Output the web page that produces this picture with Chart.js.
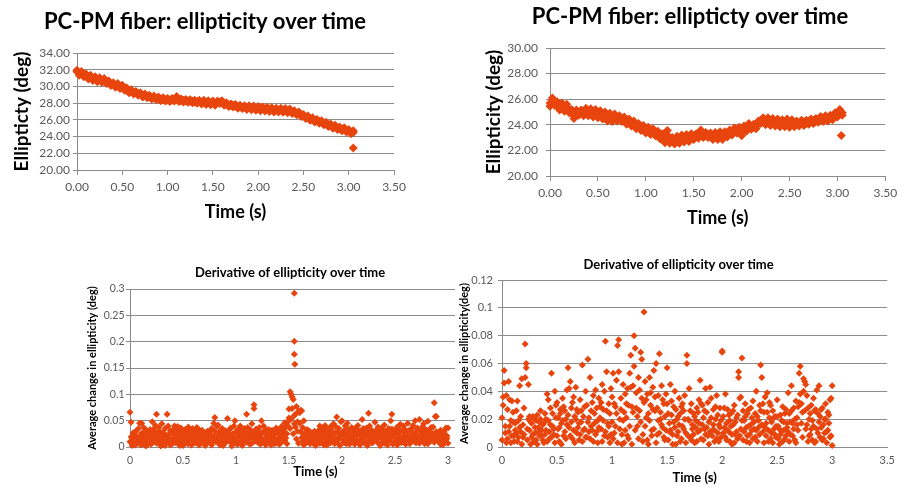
<!DOCTYPE html>
<html>
<head>
<meta charset="utf-8">
<script src="https://cdn.jsdelivr.net/npm/chart.js@4"></script>
<style>
  html, body { margin: 0; padding: 0; background: #fff; }
  body { width: 902px; height: 487px; position: relative; overflow: hidden; }
  .box { position: absolute; overflow: hidden; }
  canvas { display: block; }
</style>
</head>
<body>
<div class="box" style="left:0;top:0;width:450px;height:230px;"><canvas id="chartTopLeft" width="450" height="230"></canvas></div>
<div class="box" style="left:450px;top:0;width:452px;height:230px;"><canvas id="chartTopRight" width="452" height="230"></canvas></div>
<div class="box" style="left:79px;top:250px;width:376px;height:237px;"><canvas id="chartBottomLeft" width="460" height="237"></canvas></div>
<div class="box" style="left:440px;top:250px;width:462px;height:237px;"><canvas id="chartBottomRight" width="462" height="237"></canvas></div>
<script>
// sampling instants of the two ellipticity runs (s)
const timeTop = [
  0, 0.025, 0.05, 0.075, 0.1, 0.125, 0.15, 0.175,
  0.2, 0.225, 0.25, 0.275, 0.3, 0.325, 0.35, 0.375,
  0.4, 0.425, 0.45, 0.475, 0.5, 0.525, 0.55, 0.575,
  0.6, 0.625, 0.65, 0.675, 0.7, 0.725, 0.75, 0.775,
  0.8, 0.825, 0.85, 0.875, 0.9, 0.925, 0.95, 0.975,
  1, 1.025, 1.05, 1.075, 1.1, 1.125, 1.15, 1.175,
  1.2, 1.225, 1.25, 1.275, 1.3, 1.325, 1.35, 1.375,
  1.4, 1.425, 1.45, 1.475, 1.5, 1.525, 1.55, 1.575,
  1.6, 1.625, 1.65, 1.675, 1.7, 1.725, 1.75, 1.775,
  1.8, 1.825, 1.85, 1.875, 1.9, 1.925, 1.95, 1.975,
  2, 2.025, 2.05, 2.075, 2.1, 2.125, 2.15, 2.175,
  2.2, 2.225, 2.25, 2.275, 2.3, 2.325, 2.35, 2.375,
  2.4, 2.425, 2.45, 2.475, 2.5, 2.525, 2.55, 2.575,
  2.6, 2.625, 2.65, 2.675, 2.7, 2.725, 2.75, 2.775,
  2.8, 2.825, 2.85, 2.875, 2.9, 2.925, 2.95, 2.975,
  3, 3.025, 3.05
];

// ellipticity (deg), left run: middle of the band and its ragged edges
const ellipLeft = [
  31.75, 31.55, 31.60, 31.35, 31.30, 31.10, 31.15, 30.90,
  30.95, 30.75, 30.85, 30.70, 30.75, 30.55, 30.45, 30.30,
  30.25, 30.10, 30.15, 29.95, 29.95, 29.75, 29.60, 29.45,
  29.40, 29.30, 29.20, 29.15, 29.05, 28.95, 28.90, 28.85,
  28.75, 28.70, 28.65, 28.60, 28.55, 28.50, 28.45, 28.45,
  28.35, 28.40, 28.35, 28.45, 28.60, 28.40, 28.30, 28.35,
  28.25, 28.30, 28.20, 28.25, 28.15, 28.20, 28.15, 28.10,
  28.15, 28.05, 28.10, 28.00, 28.05, 27.95, 28.05, 28.15,
  28.10, 27.95, 27.85, 27.80, 27.70, 27.75, 27.65, 27.60,
  27.55, 27.55, 27.50, 27.45, 27.50, 27.40, 27.45, 27.35,
  27.40, 27.30, 27.35, 27.25, 27.30, 27.20, 27.25, 27.15,
  27.20, 27.15, 27.20, 27.10, 27.15, 27.05, 27.10, 26.95,
  26.90, 26.80, 26.75, 26.60, 26.45, 26.35, 26.25, 26.15,
  26.05, 25.95, 25.85, 25.80, 25.70, 25.60, 25.50, 25.40,
  25.30, 25.20, 25.15, 25.05, 24.95, 24.90, 24.85, 24.75,
  24.65, 24.55, 24.50
];
const ellipLeftEdge = [
  31.95, 31.35, 31.80, 31.15, 31.50, 30.90, 31.35, 30.70,
  31.15, 30.55, 31.05, 30.50, 30.95, 30.35, 30.65, 30.10,
  30.45, 29.90, 30.35, 29.75, 30.15, 29.55, 29.80, 29.25,
  29.60, 29.10, 29.40, 28.95, 29.25, 28.75, 29.10, 28.65,
  28.95, 28.50, 28.85, 28.40, 28.75, 28.30, 28.65, 28.25,
  28.55, 28.20, 28.55, 28.25, 28.80, 28.20, 28.50, 28.15,
  28.45, 28.10, 28.40, 28.05, 28.35, 28.00, 28.35, 27.90,
  28.35, 27.85, 28.30, 27.80, 28.25, 27.75, 28.25, 27.95,
  28.30, 27.75, 28.05, 27.60, 27.90, 27.55, 27.85, 27.40,
  27.75, 27.35, 27.70, 27.25, 27.70, 27.20, 27.65, 27.15,
  27.60, 27.10, 27.55, 27.05, 27.50, 27.00, 27.45, 26.95,
  27.40, 26.95, 27.40, 26.90, 27.35, 26.85, 27.30, 26.75,
  27.10, 26.60, 26.95, 26.40, 26.65, 26.15, 26.45, 25.95,
  26.25, 25.75, 26.05, 25.60, 25.90, 25.40, 25.70, 25.20,
  25.50, 25.00, 25.35, 24.85, 25.15, 24.70, 25.05, 24.55,
  24.85, 24.35, 24.70
];
const outlierLeftTime = [3.05];
const outlierLeftValue = [22.62];

// ellipticity (deg), right run: middle of the band and its ragged edges
const ellipRight = [
  25.70, 25.90, 25.75, 25.55, 25.40, 25.45, 25.30, 25.35,
  25.20, 24.95, 24.70, 24.90, 25.00, 24.90, 24.95, 25.05,
  24.95, 25.00, 24.85, 24.95, 24.80, 24.85, 24.70, 24.75,
  24.55, 24.65, 24.50, 24.60, 24.55, 24.45, 24.50, 24.35,
  24.30, 24.20, 24.15, 24.05, 23.95, 23.85, 23.80, 23.70,
  23.60, 23.55, 23.50, 23.45, 23.40, 23.25, 23.15, 23.05,
  22.85, 23.20, 22.80, 22.70, 22.75, 22.85, 22.80, 22.95,
  22.90, 23.00, 22.95, 23.05, 23.10, 23.05, 23.20, 23.35,
  23.25, 23.15, 23.25, 23.10, 23.05, 23.15, 23.10, 23.20,
  23.05, 23.20, 23.30, 23.35, 23.45, 23.50, 23.60, 23.55,
  23.35, 23.65, 23.75, 23.85, 23.90, 23.80, 23.95, 24.05,
  24.35, 24.30, 24.25, 24.35, 24.20, 24.30, 24.15, 24.25,
  24.05, 24.15, 24.10, 24.20, 24.05, 24.15, 24.10, 24.05,
  24.15, 24.10, 24.20, 24.10, 24.30, 24.20, 24.35, 24.25,
  24.45, 24.40, 24.50, 24.45, 24.55, 24.50, 24.65, 24.70,
  24.85, 25.00, 24.95
];
const ellipRightEdge = [
  25.45, 26.10, 25.50, 25.80, 25.15, 25.70, 25.05, 25.60,
  24.95, 25.20, 24.50, 25.15, 24.75, 25.15, 24.70, 25.30,
  24.70, 25.25, 24.60, 25.20, 24.55, 25.10, 24.45, 25.00,
  24.30, 24.90, 24.25, 24.85, 24.30, 24.70, 24.25, 24.60,
  24.05, 24.45, 23.90, 24.30, 23.70, 24.10, 23.55, 23.95,
  23.35, 23.80, 23.25, 23.70, 23.15, 23.50, 22.90, 23.30,
  22.60, 23.55, 22.55, 23.00, 22.50, 23.10, 22.55, 23.20,
  22.65, 23.25, 22.70, 23.30, 22.85, 23.30, 22.95, 23.60,
  23.00, 23.40, 23.00, 23.35, 22.85, 23.40, 22.85, 23.45,
  22.85, 23.45, 23.05, 23.60, 23.20, 23.75, 23.35, 23.80,
  23.15, 23.90, 23.50, 24.10, 23.65, 24.05, 23.70, 24.30,
  24.10, 24.55, 24.00, 24.55, 23.95, 24.50, 23.90, 24.45,
  23.85, 24.40, 23.85, 24.45, 23.80, 24.40, 23.85, 24.30,
  23.90, 24.35, 23.95, 24.35, 24.05, 24.45, 24.10, 24.50,
  24.20, 24.65, 24.25, 24.70, 24.30, 24.75, 24.40, 24.95,
  24.60, 25.20, 24.75
];
const outlierRightTime = [3.04];
const outlierRightValue = [23.17];

// sampling instants of the derivative plots (s)
const timeBottom = [
  0, 0.01, 0.02, 0.03, 0.04, 0.05, 0.06, 0.07, 0.08, 0.09,
  0.1, 0.11, 0.12, 0.13, 0.14, 0.15, 0.16, 0.17, 0.18, 0.19,
  0.2, 0.21, 0.22, 0.23, 0.24, 0.25, 0.26, 0.27, 0.28, 0.29,
  0.3, 0.31, 0.32, 0.33, 0.34, 0.35, 0.36, 0.37, 0.38, 0.39,
  0.4, 0.41, 0.42, 0.43, 0.44, 0.45, 0.46, 0.47, 0.48, 0.49,
  0.5, 0.51, 0.52, 0.53, 0.54, 0.55, 0.56, 0.57, 0.58, 0.59,
  0.6, 0.61, 0.62, 0.63, 0.64, 0.65, 0.66, 0.67, 0.68, 0.69,
  0.7, 0.71, 0.72, 0.73, 0.74, 0.75, 0.76, 0.77, 0.78, 0.79,
  0.8, 0.81, 0.82, 0.83, 0.84, 0.85, 0.86, 0.87, 0.88, 0.89,
  0.9, 0.91, 0.92, 0.93, 0.94, 0.95, 0.96, 0.97, 0.98, 0.99,
  1, 1.01, 1.02, 1.03, 1.04, 1.05, 1.06, 1.07, 1.08, 1.09,
  1.1, 1.11, 1.12, 1.13, 1.14, 1.15, 1.16, 1.17, 1.18, 1.19,
  1.2, 1.21, 1.22, 1.23, 1.24, 1.25, 1.26, 1.27, 1.28, 1.29,
  1.3, 1.31, 1.32, 1.33, 1.34, 1.35, 1.36, 1.37, 1.38, 1.39,
  1.4, 1.41, 1.42, 1.43, 1.44, 1.45, 1.46, 1.47, 1.48, 1.49,
  1.5, 1.51, 1.52, 1.53, 1.54, 1.55, 1.56, 1.57, 1.58, 1.59,
  1.6, 1.61, 1.62, 1.63, 1.64, 1.65, 1.66, 1.67, 1.68, 1.69,
  1.7, 1.71, 1.72, 1.73, 1.74, 1.75, 1.76, 1.77, 1.78, 1.79,
  1.8, 1.81, 1.82, 1.83, 1.84, 1.85, 1.86, 1.87, 1.88, 1.89,
  1.9, 1.91, 1.92, 1.93, 1.94, 1.95, 1.96, 1.97, 1.98, 1.99,
  2, 2.01, 2.02, 2.03, 2.04, 2.05, 2.06, 2.07, 2.08, 2.09,
  2.1, 2.11, 2.12, 2.13, 2.14, 2.15, 2.16, 2.17, 2.18, 2.19,
  2.2, 2.21, 2.22, 2.23, 2.24, 2.25, 2.26, 2.27, 2.28, 2.29,
  2.3, 2.31, 2.32, 2.33, 2.34, 2.35, 2.36, 2.37, 2.38, 2.39,
  2.4, 2.41, 2.42, 2.43, 2.44, 2.45, 2.46, 2.47, 2.48, 2.49,
  2.5, 2.51, 2.52, 2.53, 2.54, 2.55, 2.56, 2.57, 2.58, 2.59,
  2.6, 2.61, 2.62, 2.63, 2.64, 2.65, 2.66, 2.67, 2.68, 2.69,
  2.7, 2.71, 2.72, 2.73, 2.74, 2.75, 2.76, 2.77, 2.78, 2.79,
  2.8, 2.81, 2.82, 2.83, 2.84, 2.85, 2.86, 2.87, 2.88, 2.89,
  2.9, 2.91, 2.92, 2.93, 2.94, 2.95, 2.96, 2.97, 2.98, 2.99,
  3
];

// average change in ellipticity (deg), left run, two passes
const derivLeftA = [
  0.066, 0.019, 0.008, 0.027, 0.012, 0.004, 0.031, 0.016, 0.009, 0.045,
  0.022, 0.045, 0.006, 0.018, 0.030, 0.002, 0.014, 0.025, 0.010, 0.033,
  0.005, 0.048, 0.020, 0.012, 0.029, 0.062, 0.015, 0.037, 0.008, 0.021,
  0.044, 0.011, 0.026, 0.003, 0.018, 0.062, 0.023, 0.009, 0.031, 0.014,
  0.006, 0.027, 0.040, 0.017, 0.034, 0.010, 0.022, 0.003, 0.036, 0.019,
  0.028, 0.012, 0.033, 0.007, 0.024, 0.038, 0.015, 0.030, 0.004, 0.035,
  0.020, 0.026, 0.009, 0.037, 0.016, 0.029, 0.005, 0.023, 0.032, 0.011,
  0.027, 0.003, 0.019, 0.030, 0.013, 0.024, 0.008, 0.035, 0.017, 0.045,
  0.056, 0.021, 0.039, 0.010, 0.028, 0.004, 0.033, 0.018, 0.026, 0.007,
  0.031, 0.015, 0.054, 0.022, 0.011, 0.036, 0.002, 0.025, 0.018, 0.050,
  0.013, 0.032, 0.006, 0.023, 0.040, 0.016, 0.028, 0.009, 0.035, 0.021,
  0.062, 0.014, 0.030, 0.005, 0.026, 0.044, 0.019, 0.080, 0.011, 0.034,
  0.023, 0.008, 0.037, 0.016, 0.050, 0.027, 0.012, 0.031, 0.004, 0.022,
  0.018, 0.033, 0.009, 0.026, 0.014, 0.030, 0.006, 0.024, 0.036, 0.011,
  0.028, 0.005, 0.020, 0.039, 0.013, 0.032, 0.046, 0.017, 0.025, 0.040,
  0.072, 0.105, 0.053, 0.073, 0.090, 0.044, 0.062, 0.077, 0.048, 0.068,
  0.065, 0.029, 0.069, 0.012, 0.050, 0.024, 0.008, 0.033, 0.017, 0.021,
  0.006, 0.026, 0.015, 0.011, 0.030, 0.003, 0.019, 0.009, 0.024, 0.040,
  0.014, 0.036, 0.007, 0.029, 0.018, 0.033, 0.004, 0.025, 0.012, 0.038,
  0.021, 0.010, 0.044, 0.016, 0.027, 0.057, 0.008, 0.035, 0.019, 0.048,
  0.050, 0.013, 0.031, 0.024, 0.006, 0.045, 0.017, 0.028, 0.010, 0.037,
  0.020, 0.034, 0.005, 0.026, 0.014, 0.041, 0.009, 0.030, 0.022, 0.052,
  0.011, 0.027, 0.018, 0.036, 0.003, 0.064, 0.023, 0.015, 0.032, 0.008,
  0.029, 0.047, 0.013, 0.021, 0.038, 0.006, 0.025, 0.017, 0.033, 0.010,
  0.042, 0.019, 0.028, 0.004, 0.035, 0.014, 0.050, 0.062, 0.022, 0.009,
  0.031, 0.016, 0.038, 0.007, 0.026, 0.043, 0.012, 0.029, 0.020, 0.034,
  0.005, 0.024, 0.045, 0.015, 0.032, 0.010, 0.027, 0.041, 0.018, 0.050,
  0.008, 0.036, 0.021, 0.052, 0.013, 0.030, 0.025, 0.044, 0.006, 0.033,
  0.019, 0.049, 0.011, 0.027, 0.037, 0.016, 0.023, 0.084, 0.058, 0.029,
  0.014, 0.025, 0.009, 0.032, 0.018, 0.004, 0.028, 0.012, 0.036, 0.021,
  0.007
];
const derivLeftB = [
  0.010, 0.047, 0.003, 0.021, 0.014, 0.028, 0.006, 0.019, 0.035, 0.011,
  0.004, 0.026, 0.015, 0.037, 0.008, 0.022, 0.031, 0.005, 0.017, 0.012,
  0.025, 0.009, 0.033, 0.016, 0.041, 0.007, 0.024, 0.013, 0.030, 0.002,
  0.018, 0.027, 0.006, 0.035, 0.012, 0.021, 0.040, 0.015, 0.004, 0.026,
  0.032, 0.013, 0.019, 0.008, 0.025, 0.039, 0.005, 0.028, 0.014, 0.010,
  0.003, 0.021, 0.016, 0.026, 0.011, 0.006, 0.029, 0.019, 0.024, 0.013,
  0.031, 0.008, 0.022, 0.015, 0.035, 0.004, 0.018, 0.012, 0.027, 0.020,
  0.014, 0.022, 0.007, 0.016, 0.025, 0.009, 0.031, 0.004, 0.021, 0.012,
  0.030, 0.010, 0.018, 0.042, 0.006, 0.024, 0.013, 0.035, 0.003, 0.020,
  0.008, 0.027, 0.019, 0.012, 0.033, 0.023, 0.016, 0.007, 0.040, 0.014,
  0.029, 0.005, 0.021, 0.034, 0.011, 0.026, 0.003, 0.018, 0.013, 0.025,
  0.009, 0.037, 0.020, 0.016, 0.032, 0.007, 0.028, 0.073, 0.024, 0.015,
  0.012, 0.030, 0.021, 0.005, 0.027, 0.015, 0.040, 0.008, 0.034, 0.019,
  0.026, 0.011, 0.020, 0.004, 0.032, 0.017, 0.023, 0.013, 0.007, 0.029,
  0.016, 0.024, 0.033, 0.009, 0.027, 0.019, 0.012, 0.038, 0.006, 0.048,
  0.055, 0.035, 0.100, 0.095, 0.025, 0.060, 0.038, 0.015, 0.030, 0.007,
  0.045, 0.070, 0.018, 0.037, 0.004, 0.027, 0.014, 0.020, 0.009, 0.031,
  0.022, 0.012, 0.018, 0.027, 0.005, 0.016, 0.023, 0.011, 0.032, 0.007,
  0.028, 0.018, 0.023, 0.004, 0.041, 0.010, 0.026, 0.015, 0.030, 0.008,
  0.033, 0.016, 0.025, 0.006, 0.039, 0.012, 0.028, 0.019, 0.003, 0.024,
  0.017, 0.029, 0.008, 0.040, 0.021, 0.012, 0.033, 0.005, 0.023, 0.015,
  0.028, 0.009, 0.019, 0.036, 0.012, 0.024, 0.030, 0.004, 0.016, 0.026,
  0.035, 0.017, 0.006, 0.022, 0.029, 0.011, 0.040, 0.019, 0.008, 0.025,
  0.013, 0.022, 0.031, 0.010, 0.018, 0.027, 0.003, 0.036, 0.015, 0.023,
  0.007, 0.029, 0.014, 0.021, 0.011, 0.026, 0.018, 0.034, 0.005, 0.030,
  0.019, 0.027, 0.004, 0.022, 0.013, 0.032, 0.008, 0.017, 0.040, 0.011,
  0.026, 0.014, 0.020, 0.031, 0.006, 0.018, 0.035, 0.013, 0.024, 0.009,
  0.029, 0.016, 0.033, 0.007, 0.022, 0.012, 0.039, 0.019, 0.027, 0.014,
  0.024, 0.006, 0.031, 0.016, 0.012, 0.026, 0.038, 0.009, 0.020, 0.058,
  0.027, 0.011, 0.019, 0.005, 0.025, 0.014, 0.030, 0.008, 0.022, 0.016,
  0.036
];
const spikeLeftTime = [1.55, 1.55, 1.55, 1.555];
const spikeLeftValue = [0.292, 0.201, 0.176, 0.157];

// average change in ellipticity (deg), right run, two passes
const derivRightA = [
  0.021, 0.030, 0.055, 0.010, 0.037, 0.006, 0.047, 0.015, 0.003, 0.033,
  0.018, 0.008, 0.012, 0.026, 0.004, 0.019, 0.044, 0.011, 0.049, 0.007,
  0.028, 0.074, 0.057, 0.013, 0.045, 0.022, 0.002, 0.017, 0.009, 0.021,
  0.014, 0.005, 0.023, 0.011, 0.018, 0.026, 0.008, 0.016, 0.003, 0.024,
  0.012, 0.038, 0.019, 0.006, 0.028, 0.053, 0.015, 0.009, 0.040, 0.021,
  0.032, 0.013, 0.004, 0.024, 0.017, 0.035, 0.008, 0.026, 0.020, 0.041,
  0.057, 0.014, 0.047, 0.028, 0.006, 0.036, 0.022, 0.043, 0.010, 0.025,
  0.005, 0.034, 0.018, 0.059, 0.012, 0.029, 0.040, 0.007, 0.063, 0.021,
  0.050, 0.015, 0.032, 0.004, 0.024, 0.041, 0.011, 0.019, 0.035, 0.029,
  0.013, 0.045, 0.027, 0.008, 0.076, 0.054, 0.017, 0.031, 0.003, 0.042,
  0.036, 0.053, 0.010, 0.029, 0.048, 0.073, 0.077, 0.020, 0.035, 0.002,
  0.045, 0.025, 0.012, 0.031, 0.042, 0.006, 0.053, 0.066, 0.029, 0.044,
  0.080, 0.071, 0.039, 0.015, 0.050, 0.026, 0.068, 0.035, 0.004, 0.097,
  0.047, 0.021, 0.038, 0.002, 0.050, 0.030, 0.012, 0.043, 0.055, 0.026,
  0.060, 0.009, 0.037, 0.067, 0.020, 0.044, 0.014, 0.031, 0.005, 0.038,
  0.057, 0.024, 0.011, 0.045, 0.033, 0.002, 0.018, 0.040, 0.027, 0.008,
  0.022, 0.035, 0.004, 0.029, 0.015, 0.026, 0.037, 0.010, 0.066, 0.020,
  0.042, 0.007, 0.031, 0.016, 0.024, 0.003, 0.019, 0.028, 0.011, 0.034,
  0.048, 0.006, 0.030, 0.021, 0.013, 0.042, 0.025, 0.008, 0.018, 0.043,
  0.035, 0.012, 0.027, 0.004, 0.020, 0.037, 0.010, 0.016, 0.028, 0.007,
  0.069, 0.022, 0.014, 0.038, 0.005, 0.027, 0.011, 0.019, 0.024, 0.002,
  0.016, 0.030, 0.009, 0.021, 0.006, 0.054, 0.035, 0.013, 0.064, 0.026,
  0.019, 0.031, 0.004, 0.024, 0.015, 0.009, 0.028, 0.012, 0.033, 0.018,
  0.007, 0.040, 0.022, 0.014, 0.030, 0.059, 0.050, 0.011, 0.025, 0.036,
  0.017, 0.039, 0.004, 0.021, 0.030, 0.010, 0.026, 0.013, 0.022, 0.007,
  0.034, 0.015, 0.002, 0.023, 0.011, 0.029, 0.018, 0.006, 0.027, 0.014,
  0.039, 0.024, 0.009, 0.044, 0.017, 0.028, 0.005, 0.033, 0.021, 0.012,
  0.053, 0.058, 0.031, 0.025, 0.040, 0.047, 0.045, 0.016, 0.028, 0.008,
  0.024, 0.013, 0.019, 0.035, 0.003, 0.027, 0.041, 0.010, 0.044, 0.022,
  0.014, 0.028, 0.006, 0.020, 0.031, 0.011, 0.025, 0.017, 0.034, 0.008,
  0.044
];
const derivRightB = [
  0.005, 0.036, 0.046, 0.015, 0.003, 0.027, 0.011, 0.034, 0.019, 0.008,
  0.025, 0.004, 0.017, 0.010, 0.033, 0.007, 0.014, 0.022, 0.002, 0.016,
  0.009, 0.050, 0.060, 0.005, 0.020, 0.012, 0.018, 0.007, 0.022, 0.004,
  0.010, 0.019, 0.002, 0.014, 0.008, 0.020, 0.012, 0.005, 0.017, 0.009,
  0.020, 0.004, 0.034, 0.011, 0.016, 0.007, 0.024, 0.013, 0.003, 0.030,
  0.008, 0.021, 0.014, 0.027, 0.002, 0.019, 0.029, 0.011, 0.006, 0.016,
  0.023, 0.042, 0.008, 0.018, 0.032, 0.012, 0.003, 0.020, 0.027, 0.014,
  0.017, 0.009, 0.026, 0.004, 0.022, 0.013, 0.007, 0.030, 0.018, 0.011,
  0.006, 0.026, 0.012, 0.037, 0.017, 0.009, 0.028, 0.003, 0.014, 0.021,
  0.032, 0.004, 0.019, 0.040, 0.011, 0.026, 0.007, 0.015, 0.024, 0.009,
  0.018, 0.006, 0.031, 0.015, 0.024, 0.003, 0.054, 0.013, 0.027, 0.009,
  0.019, 0.003, 0.038, 0.021, 0.008, 0.030, 0.015, 0.043, 0.002, 0.025,
  0.058, 0.012, 0.028, 0.022, 0.006, 0.041, 0.018, 0.063, 0.009, 0.032,
  0.015, 0.034, 0.005, 0.024, 0.019, 0.039, 0.008, 0.027, 0.013, 0.036,
  0.003, 0.028, 0.019, 0.010, 0.025, 0.016, 0.034, 0.007, 0.022, 0.012,
  0.031, 0.005, 0.017, 0.012, 0.023, 0.009, 0.029, 0.014, 0.002, 0.020,
  0.011, 0.016, 0.024, 0.006, 0.031, 0.013, 0.020, 0.003, 0.060, 0.008,
  0.019, 0.026, 0.005, 0.013, 0.009, 0.022, 0.014, 0.004, 0.025, 0.017,
  0.012, 0.031, 0.016, 0.005, 0.026, 0.009, 0.014, 0.032, 0.002, 0.011,
  0.021, 0.008, 0.016, 0.012, 0.029, 0.006, 0.023, 0.004, 0.014, 0.019,
  0.068, 0.010, 0.028, 0.007, 0.017, 0.012, 0.023, 0.004, 0.015, 0.009,
  0.026, 0.003, 0.018, 0.011, 0.023, 0.050, 0.008, 0.036, 0.019, 0.005,
  0.011, 0.022, 0.014, 0.008, 0.027, 0.003, 0.016, 0.021, 0.006, 0.013,
  0.024, 0.012, 0.004, 0.019, 0.009, 0.026, 0.016, 0.031, 0.003, 0.014,
  0.008, 0.025, 0.012, 0.032, 0.006, 0.018, 0.003, 0.021, 0.009, 0.015,
  0.022, 0.006, 0.013, 0.009, 0.019, 0.004, 0.012, 0.024, 0.008, 0.017,
  0.011, 0.004, 0.018, 0.026, 0.008, 0.013, 0.020, 0.003, 0.016, 0.029,
  0.032, 0.038, 0.017, 0.007, 0.049, 0.026, 0.013, 0.037, 0.004, 0.020,
  0.009, 0.030, 0.005, 0.015, 0.026, 0.004, 0.013, 0.024, 0.018, 0.007,
  0.027, 0.005, 0.016, 0.010, 0.020, 0.003, 0.012, 0.023, 0.007, 0.035,
  0.001
];

const orange = "#E8450E";
const labelGray = "#595959";
const gridGray = "#8c8c8c";
const family = "Lato, 'Open Sans', sans-serif";

const toPoints = (xs, ys) => xs.map((x, i) => ({ x: x, y: ys[i] }));

// one scatter chart, with the plot area pinned by fixed axis sizes
const buildChart = (canvasId, s) => {
  const ctx = document.getElementById(canvasId).getContext("2d");
  return new Chart(ctx, {
    type: "scatter",
    data: {
      datasets: s.series.map((pts) => ({
        data: pts,
        pointStyle: "rectRot",
        pointRadius: s.marker,
        pointHoverRadius: s.marker,
        backgroundColor: orange,
        borderWidth: 0,
        clip: false,
      })),
    },
    options: {
      responsive: false,
      animation: false,
      events: [],
      layout: { padding: s.padding },
      plugins: {
        legend: { display: false },
        tooltip: { enabled: false },
        title: {
          display: true,
          text: s.title,
          color: "#000",
          font: { family, size: s.titleSize, weight: "bold", lineHeight: 1.2 },
          padding: s.titlePadding,
        },
      },
      scales: {
        x: {
          type: "linear",
          min: s.x.min,
          max: s.x.max,
          ticks: {
            stepSize: s.x.step,
            autoSkip: false,
            maxRotation: 0,
            color: labelGray,
            font: { family, size: s.x.tickSize, lineHeight: 1.2 },
            padding: s.x.tickPad,
            callback: s.x.format,
          },
          grid: {
            drawOnChartArea: false,
            drawTicks: s.x.tickLen > 0,
            tickLength: s.x.tickLen,
            color: gridGray,
          },
          border: { color: gridGray },
          title: {
            display: true,
            text: "Time (s)",
            color: "#000",
            font: { family, size: s.x.titleSize, weight: "bold", lineHeight: 1.2 },
            padding: { top: 0, bottom: s.x.titlePad },
          },
          afterFit: (scale) => { scale.height = s.x.height; },
        },
        y: {
          type: "linear",
          min: s.y.min,
          max: s.y.max,
          ticks: {
            stepSize: s.y.step,
            autoSkip: false,
            color: labelGray,
            font: { family, size: s.y.tickSize, lineHeight: 1.2 },
            padding: s.y.tickPad,
            callback: s.y.format,
          },
          grid: { drawTicks: true, tickLength: 4, color: gridGray },
          border: { color: gridGray },
          title: {
            display: true,
            text: s.y.title,
            color: "#000",
            font: { family, size: s.y.titleSize, weight: "bold", lineHeight: 1.2 },
            padding: { top: s.y.titlePad, bottom: 0 },
          },
          afterFit: (scale) => { scale.width = s.y.width; },
        },
      },
    },
  });
};

const twoDecimals = (v) => v.toFixed(2);
const plain = (v) => String(Math.round(v * 1000) / 1000);

buildChart("chartTopLeft", {
  series: [
    toPoints(timeTop, ellipLeft),
    toPoints(timeTop, ellipLeftEdge),
    toPoints(outlierLeftTime, outlierLeftValue),
  ],
  marker: 4.5,
  title: "PC-PM fiber: ellipticity over time",
  titleSize: 22,
  titlePadding: { top: 8.8, bottom: 17.8 },
  padding: { left: 16, right: 56, top: 0, bottom: 0 },
  x: { min: 0, max: 3.5, step: 0.5, format: twoDecimals, tickSize: 12, tickPad: 4.8, tickLen: 5,
       titleSize: 18, titlePad: 7.2, height: 60 },
  y: { min: 20, max: 34, step: 2, format: twoDecimals, tickSize: 12, tickPad: 3,
       title: "Ellipticty (deg)", titleSize: 19, titlePad: -5.4, width: 61 },
});

buildChart("chartTopRight", {
  series: [
    toPoints(timeTop, ellipRight),
    toPoints(timeTop, ellipRightEdge),
    toPoints(outlierRightTime, outlierRightValue),
  ],
  marker: 4.5,
  title: "PC-PM fiber: ellipticty over time",
  titleSize: 22,
  titlePadding: { top: 3.8, bottom: 17.8 },
  padding: { left: 41, right: 13, top: 0, bottom: 0 },
  x: { min: 0, max: 3.5, step: 0.5, format: twoDecimals, tickSize: 12, tickPad: 4.8, tickLen: 5,
       titleSize: 18, titlePad: 1.2, height: 54 },
  y: { min: 20, max: 30, step: 2, format: twoDecimals, tickSize: 12, tickPad: 8,
       title: "Ellipticity (deg)", titleSize: 19, titlePad: -8.4, width: 59 },
});

buildChart("chartBottomLeft", {
  series: [
    toPoints(timeBottom, derivLeftA),
    toPoints(timeBottom, derivLeftB),
    toPoints(spikeLeftTime, spikeLeftValue),
  ],
  marker: 3.5,
  title: "Derivative of ellipticity over time",
  titleSize: 13,
  titlePadding: { top: 15.2, bottom: 8.2 },
  padding: { left: 0, right: 38, top: 0, bottom: 0 },
  x: { min: 0, max: 3.5, step: 0.5, format: plain, tickSize: 10.5, tickPad: 7.4, tickLen: 0,
       titleSize: 13, titlePad: 7.2, height: 40 },
  y: { min: 0, max: 0.3, step: 0.05, format: plain, tickSize: 10.5, tickPad: 1.5,
       title: "Average change in ellipticity (deg)", titleSize: 11, titlePad: 6.4, width: 51 },
});

// labels are clipped to the y scale box, so that box starts left of "0.12"
buildChart("chartBottomRight", {
  series: [toPoints(timeBottom, derivRightA), toPoints(timeBottom, derivRightB)],
  marker: 3.5,
  title: "Derivative of ellipticity over time",
  titleSize: 13,
  titlePadding: { top: 7.2, bottom: 7.2 },
  padding: { left: 28, right: 13, top: 0, bottom: 0 },
  x: { min: 0, max: 3.5, step: 0.5, format: plain, tickSize: 11, tickPad: 7.1, tickLen: 0,
       titleSize: 13, titlePad: 0.9, height: 40 },
  y: { min: 0, max: 0.12, step: 0.02, format: plain, tickSize: 11, tickPad: 5,
       title: "Average change in ellipticity(deg)", titleSize: 11, titlePad: -10.1, width: 34 },
});
</script>
</body>
</html>
